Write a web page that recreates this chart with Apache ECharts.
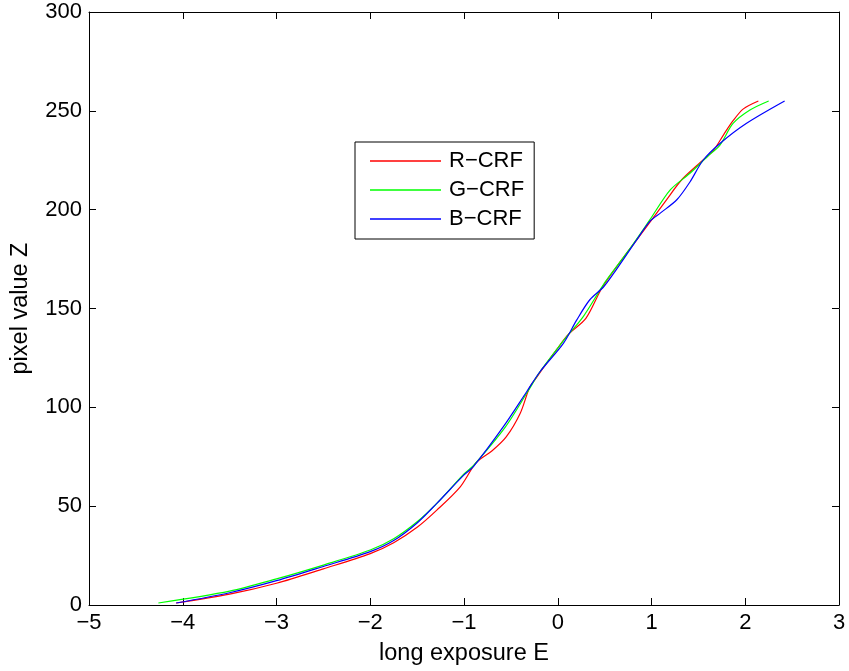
<!DOCTYPE html>
<html>
<head>
<meta charset="utf-8">
<script src="https://cdn.jsdelivr.net/npm/echarts@6/dist/echarts.min.js"></script>
<style>html,body{margin:0;padding:0;background:#fff}#c{width:849px;height:671px}</style>
</head>
<body>
<div id="c"></div>
<script>
const xTicks = [-5, -4, -3, -2, -1, 0, 1, 2, 3];
const yTicks = [0, 50, 100, 150, 200, 250, 300];
const seriesNames = ['R\u2212CRF', 'G\u2212CRF', 'B\u2212CRF'];

const redCRF = [
  [-4.07,1],[-3.5,5.5],[-3,11],[-2.5,18.3],[-2,26],[-1.75,31.5],[-1.5,39.3],[-1.29,48],[-1.04,59.8],
  [-0.87,72],[-0.7,78],[-0.55,85],[-0.4,97],[-0.3,110],[-0.22,115.5],[-0.17,119],[0.0,130],
  [0.115,137],[0.3,145],[0.46,159.5],[0.55,166],[0.735,178],[0.95,191.5],[1.16,205],[1.32,215],
  [1.5,223],[1.66,230],[1.77,238],[1.87,245],[1.98,251],[2.14,255]
];
const greenCRF = [
  [-4.26,1],[-3.5,7],[-3,13.2],[-2.5,20.2],[-2,27.8],[-1.75,33.5],[-1.5,42.1],[-1.29,51.4],[-1,66.3],
  [-0.9,70.5],[-0.56,90],[-0.32,108],[-0.19,118],[0.0,130],[0.1,136],[0.27,145.8],[0.45,159.3],
  [0.52,164.4],[0.75,179],[0.98,194.7],[1.2,210],[1.41,218.4],[1.6,227],[1.73,232.7],
  [1.87,243.6],[2.05,250.4],[2.25,255]
];
const blueCRF = [
  [-4.07,1],[-3.5,6.2],[-3,12.3],[-2.5,19.5],[-2,27],[-1.75,32.6],[-1.5,41.5],[-1.29,51.4],[-1.0,65.8],
  [-0.9,70],[-0.58,90.2],[-0.33,108],[-0.19,118],[0.06,132.4],[0.2,144],[0.34,154.3],[0.49,161],
  [0.6,168],[0.84,184.6],[0.98,194],[1.1,198.5],[1.27,205],[1.41,214],[1.55,225],[1.73,233.5],
  [2.01,243.6],[2.42,255]
];

const FONT = 'Liberation Sans';
const FS = 22;
const NFS = 23.5;
const minus = v => String(v).replace('-', '\u2212');

const chart = echarts.init(document.getElementById('c'), null, {renderer: 'canvas'});
const axisCommon = {
  axisLine: {show: true, onZero: false, lineStyle: {color: '#000', width: 1}},
  axisTick: {show: true, inside: true, length: 7, lineStyle: {color: '#000'}},
  splitLine: {show: false}
};
chart.setOption({
  animation: false,
  backgroundColor: '#fff',
  grid: {left: 89, right: 10, top: 12, bottom: 66, containLabel: false},
  legend: {
    data: seriesNames.map(n => ({name: n, icon: 'rect'})),
    orient: 'vertical',
    left: 355, top: 142,
    padding: [8, 10, 9, 15],
    itemWidth: 71, itemHeight: 1.4, itemGap: 7,
    borderColor: '#000', borderWidth: 1, backgroundColor: '#fff',
    textStyle: {fontFamily: FONT, fontSize: FS, lineHeight: 22, color: '#000', padding: [0, 0, 0, 3]}
  },
  xAxis: [
    Object.assign({type: 'value', min: -5, max: 3, interval: 1, position: 'bottom',
      name: 'long exposure E', nameLocation: 'middle', nameGap: 37,
      nameTextStyle: {fontFamily: FONT, fontSize: NFS, color: '#000'},
      axisLabel: {fontFamily: FONT, fontSize: FS, color: '#000', margin: 7, formatter: minus}}, axisCommon),
    Object.assign({type: 'value', min: -5, max: 3, interval: 1, position: 'top',
      axisLabel: {show: false}}, axisCommon)
  ],
  yAxis: [
    Object.assign({type: 'value', min: 0, max: 300, interval: 50, position: 'left',
      name: 'pixel value Z', nameLocation: 'middle', nameGap: 56,
      nameTextStyle: {fontFamily: FONT, fontSize: NFS, color: '#000'},
      axisLabel: {fontFamily: FONT, fontSize: FS, color: '#000', margin: 7}}, axisCommon),
    Object.assign({type: 'value', min: 0, max: 300, interval: 50, position: 'right',
      axisLabel: {show: false}}, axisCommon)
  ],
  series: [
    {name: seriesNames[0], type: 'line', data: redCRF, color: '#ff0000'},
    {name: seriesNames[1], type: 'line', data: greenCRF, color: '#00ff00'},
    {name: seriesNames[2], type: 'line', data: blueCRF, color: '#0000ff'}
  ].map(s => Object.assign(s, {xAxisIndex: 0, yAxisIndex: 0, symbol: 'none', showSymbol: false,
    smooth: 0.3, lineStyle: {width: 1.2, color: s.color}, itemStyle: {color: s.color}}))
});
</script>
</body>
</html>
